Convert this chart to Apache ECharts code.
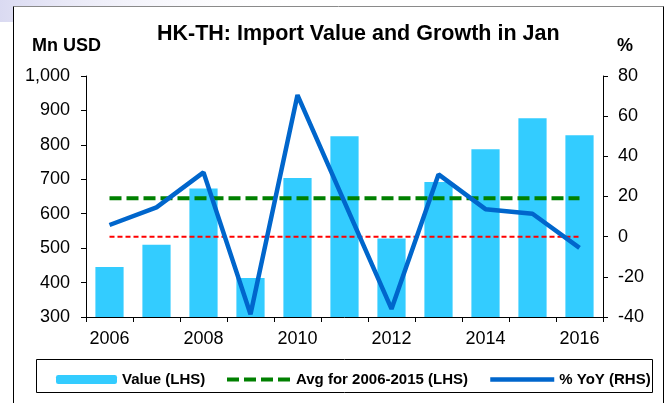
<!DOCTYPE html>
<html>
<head>
<meta charset="utf-8">
<script src="https://cdn.jsdelivr.net/npm/echarts@6/dist/echarts.min.js"></script>
<style>
  html, body { margin: 0; padding: 0; background: #fff; }
  #chart { width: 669px; height: 403px; }
</style>
</head>
<body>
<div id="chart"></div>
<script>
// Years on the category axis
const years = ['2006', '2007', '2008', '2009', '2010', '2011', '2012', '2013', '2014', '2015', '2016'];
// Import value in January, Mn USD (left axis)
const importValue = [445, 510, 673, 413, 704, 825, 528, 692, 787, 877, 828];
// Average of 2006-2015 (left axis)
const avgValue = [645, 645, 645, 645, 645, 645, 645, 645, 645, 645, 645];
// Year-on-year growth, % (right axis)
const yoyGrowth = [5.8, 14.6, 32.0, -38.6, 70.5, 17.2, -36.0, 31.0, 13.7, 11.4, -5.6];
// Zero reference on the right axis
const zeroLine = [0, 0, 0, 0, 0, 0, 0, 0, 0, 0, 0];

const FONT = '"Liberation Sans", Arial, sans-serif';
const chart = echarts.init(document.getElementById('chart'), null, { renderer: 'canvas' });

const legendText = { fontFamily: FONT, fontSize: 15, fontWeight: 'bold', color: '#000' };

chart.setOption({
  backgroundColor: '#fff',
  animation: false,
  textStyle: { fontFamily: FONT },
  title: {
    text: 'HK-TH: Import Value and Growth in Jan',
    left: 152,
    top: 18,
    textStyle: { fontFamily: FONT, fontSize: 21.5, fontWeight: 'bold', color: '#000' }
  },
  graphic: [
    {
      type: 'rect', z: -10, silent: true,
      shape: { x: 0, y: 0, width: 300, height: 22 },
      style: {
        fill: new echarts.graphic.LinearGradient(0, 0, 1, 0, [
          { offset: 0, color: 'rgba(214,214,240,0.9)' },
          { offset: 1, color: 'rgba(255,255,255,0)' }
        ])
      }
    },
    { type: 'rect', z: -5, silent: true, shape: { x: 13.5, y: 6.5, width: 650, height: 420 }, style: { fill: '#fff', stroke: null } },
    { type: 'line', silent: true, shape: { x1: 13.5, y1: 6.5, x2: 663.5, y2: 6.5 }, style: { stroke: '#8a8a8a', lineWidth: 1 } },
    { type: 'line', silent: true, shape: { x1: 13.5, y1: 6.5, x2: 13.5, y2: 403 }, style: { stroke: '#000', lineWidth: 1 } },
    { type: 'line', silent: true, shape: { x1: 663.5, y1: 6.5, x2: 663.5, y2: 403 }, style: { stroke: '#000', lineWidth: 1 } },
    { type: 'rect', silent: true, shape: { x: 36.5, y: 359.5, width: 616, height: 33 }, style: { fill: null, stroke: '#000', lineWidth: 1 } },
    {
      type: 'text', left: 32, top: 37,
      style: { text: 'Mn USD', font: 'bold 18px ' + FONT, fill: '#000' }
    },
    {
      type: 'text', left: 617, top: 37,
      style: { text: '%', font: 'bold 18px ' + FONT, fill: '#000' }
    }
  ],
  legend: [
    {
      data: ['Value (LHS)'], left: 51, top: 367, itemWidth: 61, itemHeight: 9,
      itemGap: 0, textStyle: legendText, selectedMode: false
    },
    {
      data: ['Avg for 2006-2015 (LHS)'], left: 220, top: 367, itemWidth: 64, itemHeight: 9,
      itemGap: 0, textStyle: legendText, selectedMode: false,
      itemStyle: { opacity: 0 },
      lineStyle: { color: '#008000', width: 4, type: [12, 5] }
    },
    {
      data: ['% YoY (RHS)'], left: 483, top: 367, itemWidth: 64, itemHeight: 9,
      itemGap: 0, textStyle: legendText, selectedMode: false,
      itemStyle: { opacity: 0 },
      lineStyle: { color: '#0066cc', width: 4.5, type: 'solid' }
    }
  ],
  grid: { left: 86, right: 66, top: 76, bottom: 86 },
  xAxis: {
    type: 'category',
    data: years,
    boundaryGap: true,
    axisLine: { onZero: false, lineStyle: { color: '#000', width: 1 } },
    axisTick: { show: true, interval: 0, length: 5, lineStyle: { color: '#000' } },
    axisLabel: { interval: 1, margin: 13, fontFamily: FONT, fontSize: 18, color: '#000' },
    splitLine: { show: false }
  },
  yAxis: [
    {
      type: 'value', min: 300, max: 1000, interval: 100, position: 'left',
      axisLine: { show: true, lineStyle: { color: '#000', width: 1 } },
      axisTick: { show: true, length: 5, lineStyle: { color: '#000' } },
      axisLabel: {
        margin: 16, fontFamily: FONT, fontSize: 18, color: '#000',
        formatter: v => v.toLocaleString('en-US')
      },
      splitLine: { show: false }
    },
    {
      type: 'value', min: -40, max: 80, interval: 20, position: 'right',
      axisLine: { show: true, lineStyle: { color: '#000', width: 1 } },
      axisTick: { show: true, length: 5, lineStyle: { color: '#000' } },
      axisLabel: { margin: 15, fontFamily: FONT, fontSize: 18, color: '#000' },
      splitLine: { show: false }
    }
  ],
  series: [
    {
      name: 'Value (LHS)', type: 'bar', yAxisIndex: 0, data: importValue,
      barWidth: '60%',
      itemStyle: { color: '#33ccff' },
      z: 1
    },
    {
      name: 'zero', type: 'line', yAxisIndex: 1, data: zeroLine,
      symbol: 'none',
      lineStyle: { color: '#ff0000', width: 2, type: [5, 3] },
      z: 2
    },
    {
      name: 'Avg for 2006-2015 (LHS)', type: 'line', yAxisIndex: 0, data: avgValue,
      symbol: 'none',
      lineStyle: { color: '#008000', width: 4, type: [12, 5] },
      itemStyle: { color: '#008000' },
      z: 3
    },
    {
      name: '% YoY (RHS)', type: 'line', yAxisIndex: 1, data: yoyGrowth,
      symbol: 'none',
      lineStyle: { color: '#0066cc', width: 4.5 },
      itemStyle: { color: '#0066cc' },
      z: 4
    }
  ]
});
</script>
</body>
</html>
